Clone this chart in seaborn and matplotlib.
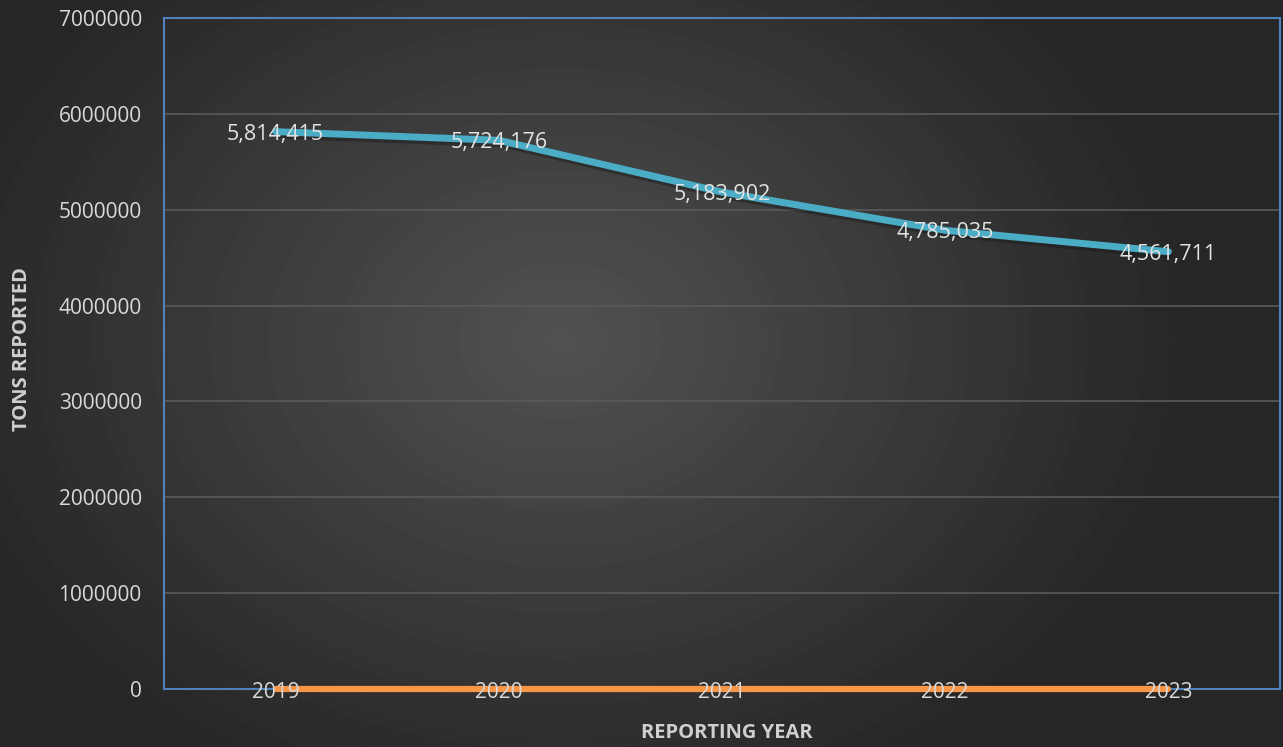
import numpy as np
import pandas as pd
import seaborn as sns
import matplotlib.pyplot as plt
import matplotlib.patheffects as pe

years = ['2019', '2020', '2021', '2022', '2023']
tons = [5814415, 5724176, 5183902, 4785035, 4561711]
other = [0, 0, 0, 0, 0]
y_ticks = [0, 1000000, 2000000, 3000000, 4000000, 5000000, 6000000, 7000000]

sns.set_theme(style='dark')
plt.rcParams['font.family'] = ['Open Sans', 'DejaVu Sans']

fig = plt.figure(figsize=(12.83, 7.47), dpi=100)

# radial gradient background (excel dark style)
bg = fig.add_axes([0, 0, 1, 1], zorder=-10)
yy, xx = np.mgrid[0:747, 0:1283]
r = np.sqrt(((xx - 560) / 900.0) ** 2 + ((yy - 340) / 700.0) ** 2)
shade = np.clip(0.32 - 0.24 * r, 0.15, 0.32)
bg.imshow(shade, cmap='gray', vmin=0, vmax=1, aspect='auto', interpolation='bilinear')
bg.axis('off')

ax = fig.add_axes([164 / 1283, 58 / 747, 1116 / 1283, 671 / 747])
ax.patch.set_alpha(0)

df = pd.DataFrame({'year': years, 'tons': tons, 'other': other})

sns.lineplot(data=df, x='year', y='tons', ax=ax, color='#4bacc6', lw=5, sort=False, zorder=3)
ax.lines[-1].set_path_effects([pe.SimpleLineShadow(offset=(1.5, -2.5), alpha=0.45), pe.Normal()])
sns.lineplot(data=df, x='year', y='other', ax=ax, color='#f79646', lw=4.5, sort=False, zorder=3, clip_on=False)

# data labels
for i, v in enumerate(tons):
    ax.text(i, v, f'{v:,}', ha='center', va='center_baseline', color='#e3e3e3', fontsize=15.5, zorder=6)

ax.set_xlim(-0.5, 4.5)
ax.set_ylim(0, 7000000)
ax.set_yticks(y_ticks)
ax.set_yticklabels([str(t) for t in y_ticks])

ax.yaxis.grid(True, color='#5a5a5a', lw=1.2)
ax.xaxis.grid(False)
for s in ax.spines.values():
    s.set_visible(True)
    s.set_color('#4f81bd')
    s.set_linewidth(1.5)
    s.set_zorder(2)

ax.tick_params(axis='y', length=0, pad=16, labelsize=15, labelcolor='#d9d9d9')
ax.tick_params(axis='x', length=0, pad=-5, labelsize=15, labelcolor='#d9d9d9')
ax.xaxis.set_zorder(5)

ax.set_xlabel('REPORTING YEAR', fontsize=14.5, fontweight='bold', color='#cfcfcf')
ax.set_ylabel('TONS REPORTED', fontsize=14.5, fontweight='bold', color='#cfcfcf')
ax.xaxis.label.set_va('center')
ax.yaxis.label.set_va('center')
ax.xaxis.set_label_coords(0.5045, -0.0656)
ax.yaxis.set_label_coords(-0.127, 0.507)

fig.savefig('out.png', dpi=100)
